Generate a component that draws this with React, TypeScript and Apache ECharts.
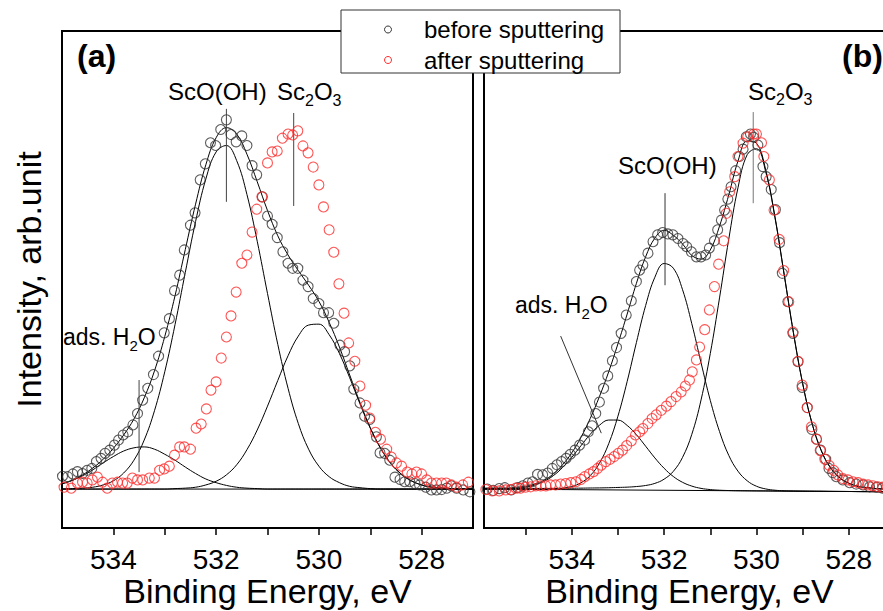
import { useEffect, useRef } from 'react';
import * as echarts from 'echarts';

const FONT = "'Liberation Sans', Arial, Helvetica, sans-serif";

// ---------- Panel (a): energy grid for fitted curves (eV) ----------
const fitEnergyA = [
  535.0, 534.8, 534.6, 534.4, 534.2, 534.0, 533.8, 533.6, 533.4, 533.2, 533.0,
  532.8, 532.6, 532.4, 532.2, 532.0, 531.8, 531.6, 531.4, 531.2, 531.0,
  530.8, 530.6, 530.4, 530.2, 530.0, 529.8, 529.6, 529.4, 529.2, 529.0,
  528.8, 528.6, 528.4, 528.2, 528.0, 527.8, 527.6, 527.4, 527.2, 527.0,
];
const envelopeA = [
  12, 19, 31, 46, 65, 89, 118, 153, 199, 258, 333, 422, 523, 622, 708, 767, 789, 775, 731, 671, 608,
  553, 511, 477, 445, 410, 364, 310, 249, 189, 134, 90, 56, 33, 18, 9, 4, 2, 1, 0, 0,
];
const h2oFitA = [
  11, 19, 29, 42, 57, 71, 83, 90, 92, 87, 76, 63, 48, 34, 22, 14, 8, 4, 2, 1, 0,
  0, 0, 0, 0, 0, 0, 0, 0, 0, 0, 0, 0, 0, 0, 0, 0, 0, 0, 0, 0,
];
const scoohFitA = [
  0, 1, 2, 4, 9, 18, 35, 63, 107, 171, 256, 359, 473, 584, 677, 736, 750, 717, 643, 541, 427,
  316, 220, 143, 87, 50, 27, 14, 6, 3, 1, 0, 0, 0, 0, 0, 0, 0, 0, 0, 0,
];
const sc2o3FitA = [
  0, 0, 0, 0, 0, 0, 0, 0, 0, 0, 0, 1, 2, 4, 9, 17, 31, 53, 86, 129, 181,
  237, 291, 334, 358, 360, 337, 296, 243, 186, 133, 89, 56, 33, 18, 9, 4, 2, 1, 0, 0,
];
const baselineA: [number, number][] = [[535, 0], [527, 0]];

// measured points, panel (a): [binding energy, intensity]
const beforeA: [number, number][] = [
  [534.99, 28], [534.89, 27], [534.79, 33], [534.70, 38], [534.60, 34], [534.51, 41], [534.42, 45],
  [534.33, 60], [534.24, 67], [534.16, 78], [534.07, 85], [533.98, 96], [533.90, 107], [533.81, 118],
  [533.72, 125], [533.62, 140], [533.53, 165], [533.43, 194], [533.33, 220], [533.22, 250], [533.12, 290],
  [533.01, 341], [532.91, 372], [532.81, 433], [532.71, 467], [532.62, 522], [532.50, 576], [532.41, 603],
  [532.31, 675], [532.21, 710], [532.11, 756], [532.01, 750], [531.91, 785], [531.80, 806], [531.71, 774],
  [531.61, 758], [531.50, 771], [531.40, 750], [531.30, 706], [531.21, 686], [531.10, 638], [531.00, 596],
  [530.91, 578], [530.81, 549], [530.70, 518], [530.60, 493], [530.51, 482], [530.41, 482], [530.31, 456],
  [530.21, 442], [530.11, 416], [530.00, 405], [529.91, 385], [529.81, 385], [529.71, 362], [529.59, 314],
  [529.50, 300], [529.40, 269], [529.32, 218], [529.20, 188], [529.11, 159], [529.01, 152], [528.88, 114],
  [528.81, 79], [528.72, 78], [528.62, 63], [528.52, 26], [528.42, 21], [528.33, 16], [528.23, 16],
  [528.13, 12], [528.04, 9], [527.92, 4], [527.81, -2], [527.71, -2], [527.61, -1], [527.51, 2],
  [527.42, 7], [527.32, 2], [527.19, -2], [527.06, -6],
];
const afterA: [number, number][] = [
  [534.96, 4], [534.82, 2], [534.70, 13], [534.60, 15], [534.51, 13], [534.41, 20], [534.31, 26],
  [534.21, 15], [534.12, 2], [534.02, 13], [533.92, 15], [533.82, 13], [533.73, 13], [533.63, 24],
  [533.53, 20], [533.43, 20], [533.30, 24], [533.20, 24], [533.10, 41], [533.01, 44], [532.91, 50],
  [532.81, 74], [532.71, 92], [532.62, 92], [532.50, 87], [532.39, 133], [532.29, 142], [532.19, 175],
  [532.10, 216], [532.00, 234], [531.90, 286], [531.80, 332], [531.71, 378], [531.61, 430], [531.50, 493],
  [531.40, 511], [531.30, 561], [531.21, 611], [531.11, 638], [531.00, 712], [530.91, 736], [530.81, 738],
  [530.71, 766], [530.60, 775], [530.51, 773], [530.41, 782], [530.31, 749], [530.21, 734], [530.11, 703],
  [530.00, 664], [529.91, 616], [529.80, 566], [529.71, 517], [529.61, 448], [529.51, 384], [529.42, 319],
  [529.30, 279], [529.20, 225], [529.09, 183], [529.01, 155], [528.90, 124], [528.80, 109], [528.68, 87],
  [528.59, 70], [528.49, 57], [528.39, 50], [528.28, 37], [528.19, 33], [528.10, 37], [528.00, 33],
  [527.90, 20], [527.81, 13], [527.71, 13], [527.61, 13], [527.52, 13], [527.42, 9], [527.32, 4],
  [527.20, 9], [527.09, 15],
];

// ---------- Panel (b) ----------
const fitEnergyB = [
  536.0, 535.8, 535.6, 535.4, 535.2,
  535.0, 534.8, 534.6, 534.4, 534.2, 534.0, 533.8, 533.6, 533.4, 533.2, 533.0,
  532.8, 532.6, 532.4, 532.2, 532.0, 531.8, 531.6, 531.4, 531.2, 531.0,
  530.8, 530.6, 530.4, 530.2, 530.0, 529.8, 529.6, 529.4, 529.2, 529.0,
  528.8, 528.6, 528.4, 528.2, 528.0, 527.8, 527.6, 527.4, 527.2, 527.0,
];
const envelopeB = [
  1, 2, 2, 2, 4, 6, 11, 19, 33, 53, 79, 113, 154, 202, 256, 317, 382, 449, 507, 548,
  565, 554, 535, 510, 502, 522, 574, 642, 716, 760, 755, 697, 595, 469, 342, 231, 145, 85, 47, 25,
  13, 6, 3, 1, 0, -1,
];
const h2oFitB = [
  0, 0, 0.2, 0.6, 1.7, 4.1, 8.8, 16.7, 29.2, 46.9, 69.2, 94.6, 119.5, 139.3, 150.7, 150.6,
  138.9, 118.8, 93.6, 68, 45.4, 27.4, 14.7, 6.5, 1.5, -1.1, -2.5, -3.2, -3.6, -3.8, -4.0,
  -4.1, -4.3, -4.4, -4.5, -4.7, -4.8, -4.9, -5.1, -5.2, -5.3, -5.5, -5.6, -5.7, -5.9, -6.0,
];
const scoohFitB = [
  0, 0, -0.2, -0.3, -0.5, -0.6, -0.6, -0.5, 0.1, 1.7, 5.5, 13.7, 29.3, 56.4, 98.9, 159,
  234.9, 319.8, 400.6, 462.5, 492.4, 482.2, 435.1, 361, 275.8, 193.7, 125.6, 73.6, 39, 18, 6.2,
  0.3, -2.5, -3.8, -4.3, -4.6, -4.8, -4.9, -5.1, -5.2, -5.3, -5.5, -5.6, -5.7, -5.9, -6.0,
];
const sc2o3FitB = [
  1.4, 1.5, 1.4, 1.4, 1.3, 1.4, 1.4, 1.4, 1.5, 1.7, 1.8, 2.0, 2.3, 2.5, 2.9, 3.5,
  4.2, 5.5, 7.8, 12.4, 21.6, 38.7, 69.3, 119.5, 194.5, 295.7, 417.3, 545.4, 657.9, 730.2, 743,
  692.7, 592.8, 467.9, 341.3, 230.4, 144.6, 84.7, 46.8, 24.7, 12.6, 6.2, 3.0, 1.1, -0.3, -1.1,
];
const baselineB: [number, number][] = [[535.9, 0], [527, -6]];

const beforeB: [number, number][] = [
  [535.83, 0], [535.70, -3], [535.57, 1], [535.45, 3], [535.31, -2], [535.17, 3], [535.06, 7],
  [534.95, 13], [534.85, 16], [534.74, 32], [534.63, 31], [534.52, 35], [534.42, 45], [534.32, 53],
  [534.22, 60], [534.12, 67], [534.03, 76], [533.93, 85], [533.83, 96], [533.72, 107], [533.64, 125],
  [533.56, 138], [533.48, 165], [533.40, 190], [533.31, 220], [533.22, 247], [533.12, 280], [533.03, 309],
  [532.93, 340], [532.82, 380], [532.71, 411], [532.60, 453], [532.53, 478], [532.46, 489], [532.35, 515],
  [532.24, 540], [532.14, 555], [532.03, 560], [531.92, 557], [531.81, 555], [531.70, 547], [531.59, 536],
  [531.51, 529], [531.41, 518], [531.30, 507], [531.20, 507], [531.10, 511], [531.02, 526], [530.91, 542],
  [530.84, 566], [530.76, 587], [530.69, 609], [530.62, 633], [530.55, 660], [530.45, 695], [530.37, 726],
  [530.29, 742], [530.22, 769], [530.13, 775], [530.06, 768], [529.97, 751], [529.86, 704], [529.79, 682],
  [529.68, 654], [529.59, 610], [529.50, 538], [529.44, 471], [529.32, 409], [529.21, 340], [529.10, 278],
  [529.01, 222], [528.90, 178], [528.80, 130], [528.70, 109], [528.61, 85], [528.50, 65], [528.43, 45],
  [528.35, 36], [528.27, 27], [528.13, 20], [527.98, 14], [527.84, 11], [527.69, 9], [527.55, 5],
  [527.40, 4], [527.27, 2],
];
const afterB: [number, number][] = [
  [535.86, -1], [535.72, -4], [535.57, -4], [535.43, -2], [535.32, -1], [535.21, 2], [535.11, 2],
  [535.00, 4], [534.89, 5], [534.78, 7], [534.67, 7], [534.56, 7], [534.46, 9], [534.35, 9],
  [534.24, 11], [534.13, 12], [534.02, 14], [533.91, 16], [533.80, 21], [533.72, 27], [533.62, 33],
  [533.53, 38], [533.44, 45], [533.36, 52], [533.26, 60], [533.17, 65], [533.08, 71], [532.99, 78],
  [532.90, 85], [532.81, 95], [532.71, 105], [532.62, 118], [532.53, 125], [532.46, 132], [532.35, 143],
  [532.26, 154], [532.17, 162], [532.06, 172], [531.95, 181], [531.85, 191], [531.74, 202], [531.63, 212],
  [531.54, 225], [531.45, 238], [531.39, 256], [531.30, 282], [531.23, 310], [531.12, 348], [531.02, 391],
  [530.91, 442], [530.82, 491], [530.71, 542], [530.65, 602], [530.58, 649], [530.47, 682], [530.40, 726],
  [530.29, 755], [530.19, 769], [530.06, 775], [530.00, 775], [529.89, 756], [529.84, 726], [529.72, 675],
  [529.62, 609], [529.51, 545], [529.41, 477], [529.30, 409], [529.21, 343], [529.10, 279], [529.01, 227],
  [528.90, 178], [528.81, 136], [528.70, 109], [528.62, 84], [528.52, 65], [528.43, 52], [528.33, 41],
  [528.24, 31], [528.13, 23], [528.02, 20], [527.91, 16], [527.80, 14], [527.69, 11], [527.58, 9],
  [527.48, 7], [527.37, 5], [527.27, 4],
];

// peak-position marker lines: [energy, intensity] end points
const peakMarkA = {
  scooh: [[531.8, 830], [531.8, 627]] as [number, number][],
  sc2o3: [[530.49, 821], [530.49, 618]] as [number, number][],
  h2o: [[533.5, 238], [533.5, 37]] as [number, number][],
};
const peakMarkB = {
  scooh: [[531.98, 646], [531.98, 445]] as [number, number][],
  sc2o3: [[530.07, 823], [530.07, 624]] as [number, number][],
  h2o: [[534.24, 334], [533.36, 122]] as [number, number][],
};

const tickValues = [528, 529, 530, 531, 532, 533, 534];
const tickValuesB = [528, 529, 530, 531, 532, 533, 534, 535];
const labelValues = [528, 530, 532, 534];
const xAxisTitle = 'Binding Energy, eV';

const legendItems = [
  { name: 'before sputtering', color: '#333333' },
  { name: 'after sputtering', color: '#ff2a2a' },
];

const zip = (xs: number[], ys: number[]) => xs.map((x, i) => [x, ys[i]]);

const fitLine = (idx: number, data: number[][]) => ({
  type: 'line',
  xAxisIndex: idx,
  yAxisIndex: idx,
  data,
  symbol: 'none',
  smooth: 0.4,
  silent: true,
  lineStyle: { color: '#000', width: 1 },
  z: 2,
});

const markLineSeries = (idx: number, data: number[][], color: string) => ({
  type: 'line',
  xAxisIndex: idx,
  yAxisIndex: idx,
  data,
  symbol: 'none',
  silent: true,
  lineStyle: { color, width: 1 },
  z: 2,
});

const points = (idx: number, name: string, data: number[][], color: string) => ({
  type: 'scatter',
  name,
  xAxisIndex: idx,
  yAxisIndex: idx,
  data,
  symbol: 'circle',
  symbolSize: 10,
  itemStyle: { color: 'rgba(0,0,0,0)', borderColor: color, borderWidth: 1.1 },
  z: 3,
});

const xAxisBase = (idx: number, max: number, ticks: number[]) => ({
  gridIndex: idx,
  type: 'value',
  min: 527,
  max,
  inverse: true,
  axisLine: { show: false, onZero: false },
  axisTick: {
    show: true,
    inside: false,
    length: 7,
    customValues: ticks,
    lineStyle: { color: '#000', width: 1.5 },
  },
  axisLabel: {
    customValues: labelValues,
    fontSize: 28,
    lineHeight: 28,
    color: '#000',
    margin: 17,
    fontFamily: FONT,
  },
  splitLine: { show: false },
});

const yAxisBase = (idx: number, name: string) => ({
  gridIndex: idx,
  type: 'value',
  min: -85,
  max: 1000,
  axisLine: { show: false, onZero: false },
  axisTick: { show: false },
  axisLabel: { show: false },
  splitLine: { show: false },
  name,
  nameLocation: 'middle',
  nameGap: 16,
  nameTextStyle: { fontSize: 34, color: '#000', fontFamily: FONT },
});

const label = (x: number, y: number, text: string, size = 24, extra: Record<string, unknown> = {}) => ({
  type: 'text',
  x,
  y,
  z: 50,
  silent: true,
  style: {
    text,
    fill: '#000',
    fontSize: size,
    fontFamily: FONT,
    align: 'left',
    verticalAlign: 'middle',
    rich: {
      s: { fontSize: Math.round(size * 0.66), fontFamily: FONT, fill: '#000', padding: [Math.round(size * 0.7), 0, 0, 0] },
    },
    ...extra,
  },
});

const gridBase = { top: 31, width: 411, height: 497, show: true, borderColor: '#000', borderWidth: 2, backgroundColor: 'transparent', containLabel: false, outerBoundsMode: 'none' };

const option = {
  animation: false,
  backgroundColor: '#fff',
  textStyle: { fontFamily: FONT },
  grid: [
    { ...gridBase, left: 62 },
    { ...gridBase, left: 484 },
  ],
  xAxis: [xAxisBase(0, 535, tickValues), xAxisBase(1, 535.9, tickValuesB)],
  yAxis: [yAxisBase(0, 'Intensity, arb.unit'), yAxisBase(1, '')],
  series: [
    // panel (a)
    markLineSeries(0, baselineA, '#000'),
    fitLine(0, zip(fitEnergyA, h2oFitA)),
    fitLine(0, zip(fitEnergyA, scoohFitA)),
    fitLine(0, zip(fitEnergyA, sc2o3FitA)),
    fitLine(0, zip(fitEnergyA, envelopeA)),
    markLineSeries(0, peakMarkA.scooh, '#444'),
    markLineSeries(0, peakMarkA.sc2o3, '#444'),
    markLineSeries(0, peakMarkA.h2o, '#444'),
    points(0, legendItems[0].name, beforeA, legendItems[0].color),
    points(0, legendItems[1].name, afterA, legendItems[1].color),
    // panel (b)
    markLineSeries(1, baselineB, '#000'),
    fitLine(1, zip(fitEnergyB, h2oFitB)),
    fitLine(1, zip(fitEnergyB, scoohFitB)),
    fitLine(1, zip(fitEnergyB, sc2o3FitB)),
    fitLine(1, zip(fitEnergyB, envelopeB)),
    markLineSeries(1, peakMarkB.scooh, '#333'),
    markLineSeries(1, peakMarkB.sc2o3, '#777'),
    markLineSeries(1, peakMarkB.h2o, '#333'),
    points(1, legendItems[0].name, beforeB, legendItems[0].color),
    points(1, legendItems[1].name, afterB, legendItems[1].color),
  ],
  graphic: [
    label(77, 56, '(a)', 32, { fontWeight: 'bold' }),
    label(168, 91.5, 'ScO(OH)'),
    label(277, 91.5, 'Sc{s|2}O{s|3}'),
    label(63, 337, 'ads. H{s|2}O', 23),
    label(842, 56, '(b)', 32, { fontWeight: 'bold' }),
    label(748, 91, 'Sc{s|2}O{s|3}'),
    label(618, 165.5, 'ScO(OH)'),
    label(515, 305, 'ads. H{s|2}O', 23),
    // x-axis titles, centred under each panel
    label(267.5, 591, xAxisTitle, 34, { align: 'center', lineHeight: 34 }),
    label(689.5, 591, xAxisTitle, 34, { align: 'center', lineHeight: 34 }),
    {
      type: 'group',
      z: 100,
      children: [
        {
          type: 'rect',
          shape: { x: 341, y: 10, width: 279, height: 63 },
          style: { fill: '#fff', stroke: '#333', lineWidth: 1 },
          z: 100,
        },
        ...legendItems.flatMap((item, i) => [
          {
            type: 'circle',
            shape: { cx: 388, cy: 29.5 + i * 30.5, r: 3.5 },
            style: { fill: 'none', stroke: item.color, lineWidth: 1 },
            z: 101,
          },
          {
            type: 'text',
            x: 424,
            y: 29.5 + i * 30.5,
            z: 101,
            style: {
              text: item.name,
              fill: '#000',
              fontSize: 24,
              fontFamily: FONT,
              align: 'left',
              verticalAlign: 'middle',
            },
          },
        ]),
      ],
    },
  ],
};

export default function App() {
  const ref = useRef<HTMLDivElement>(null);
  useEffect(() => {
    if (!ref.current) return;
    const chart = echarts.init(ref.current, undefined, { renderer: 'svg' });
    chart.setOption(option as any);
    return () => chart.dispose();
  }, []);
  return (
    <div
      ref={ref}
      style={{ position: 'fixed', left: 0, top: 0, width: 883, height: 611, background: '#fff' }}
    />
  );
}
